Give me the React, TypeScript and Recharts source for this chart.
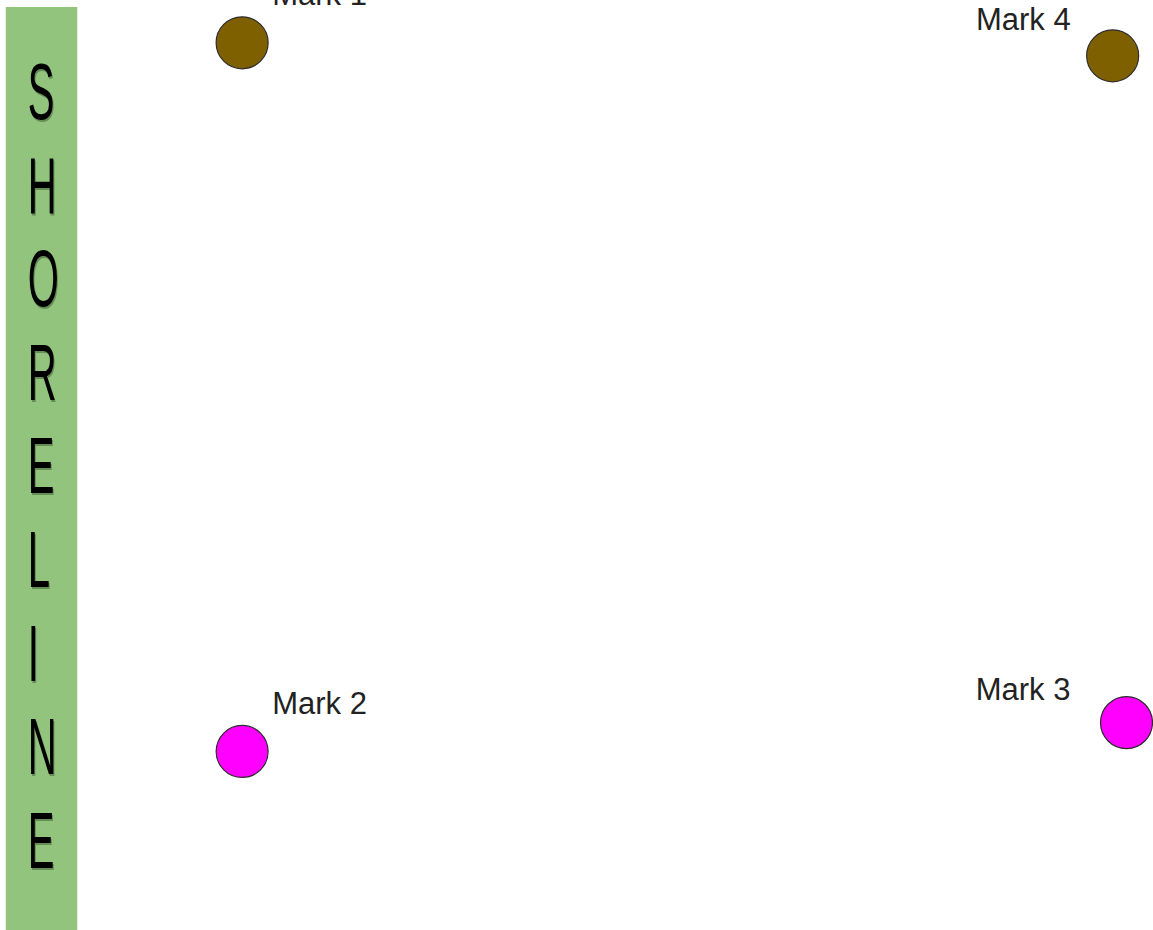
import React from 'react';
import { ScatterChart, Scatter, XAxis, YAxis, ReferenceArea, LabelList } from 'recharts';

// Data (arbitrary field units, 0-100)
const brownMarks = [
  { name: 'Mark 1', x: 21.0, y: 95.4 },
  { name: 'Mark 4', x: 96.5, y: 94.0 },
];
const pinkMarks = [
  { name: 'Mark 2', x: 21.0, y: 19.2 },
  { name: 'Mark 3', x: 97.7, y: 22.3 },
];
const shoreX = [0.5, 6.7];
const shoreY = [0, 99.25];
const shoreLetters = ['S', 'H', 'O', 'R', 'E', 'L', 'I', 'N', 'E'];

const labelStyle: Record<string, { dx: number; dy: number; anchor: 'start' | 'end' }> = {
  'Mark 1': { dx: 30, dy: -38, anchor: 'start' },
  'Mark 2': { dx: 30, dy: -37, anchor: 'start' },
  'Mark 3': { dx: -56, dy: -23, anchor: 'end' },
  'Mark 4': { dx: -42, dy: -26, anchor: 'end' },
};

const FONT = '"Liberation Sans", Arial, sans-serif';

const makeDot = (fill: string) => (props: any) => {
  const { cx, cy } = props;
  if (cx == null || cy == null) return <g />;
  return <circle cx={cx} cy={cy} r={26} fill={fill} stroke="#2b2b2b" strokeWidth={1.2} />;
};

const renderLabel = (props: any) => {
  const { x, y, width, height, value } = props;
  const s = labelStyle[value];
  if (!s) return null;
  const cx = x + width / 2;
  const cy = y + height / 2;
  return (
    <text x={cx + s.dx} y={cy + s.dy} textAnchor={s.anchor} fontFamily={FONT} fontSize={31} fill="#222">
      {value}
    </text>
  );
};

const ShoreShape = (props: any) => {
  const { x, y, width, height } = props;
  const step = 93.6;
  return (
    <g>
      <rect x={x} y={y} width={width} height={height} fill="#93C47D" />
      {shoreLetters.map((ch, i) => {
        const bx = x + 22;
        const by = y + 112 + i * step;
        return (
          <g key={i}>
            <text
              x={(bx + 1) / 0.5}
              y={by + 2}
              transform="scale(0.5,1)"
              fontFamily={FONT}
              fontSize={80}
              fill="#4a6a3e"
              opacity={0.6}
            >
              {ch}
            </text>
            <text x={bx / 0.5} y={by} transform="scale(0.5,1)" fontFamily={FONT} fontSize={80} fill="#000">
              {ch}
            </text>
          </g>
        );
      })}
    </g>
  );
};

export default function App() {
  return (
    <div style={{ position: 'absolute', left: 0, top: 0, width: 1153, height: 930, background: '#fff' }}>
      <ScatterChart width={1153} height={930} margin={{ top: 0, right: 0, bottom: 0, left: 0 }}>
        <XAxis type="number" dataKey="x" domain={[0, 100]} hide />
        <YAxis type="number" dataKey="y" domain={[0, 100]} hide />
        <ReferenceArea
          x1={shoreX[0]}
          x2={shoreX[1]}
          y1={shoreY[0]}
          y2={shoreY[1]}
          shape={<ShoreShape />}
          ifOverflow="visible"
        />
        <Scatter data={brownMarks} shape={makeDot('#7F6000')} isAnimationActive={false}>
          <LabelList dataKey="name" content={renderLabel} />
        </Scatter>
        <Scatter data={pinkMarks} shape={makeDot('#FF00FF')} isAnimationActive={false}>
          <LabelList dataKey="name" content={renderLabel} />
        </Scatter>
      </ScatterChart>
    </div>
  );
}
